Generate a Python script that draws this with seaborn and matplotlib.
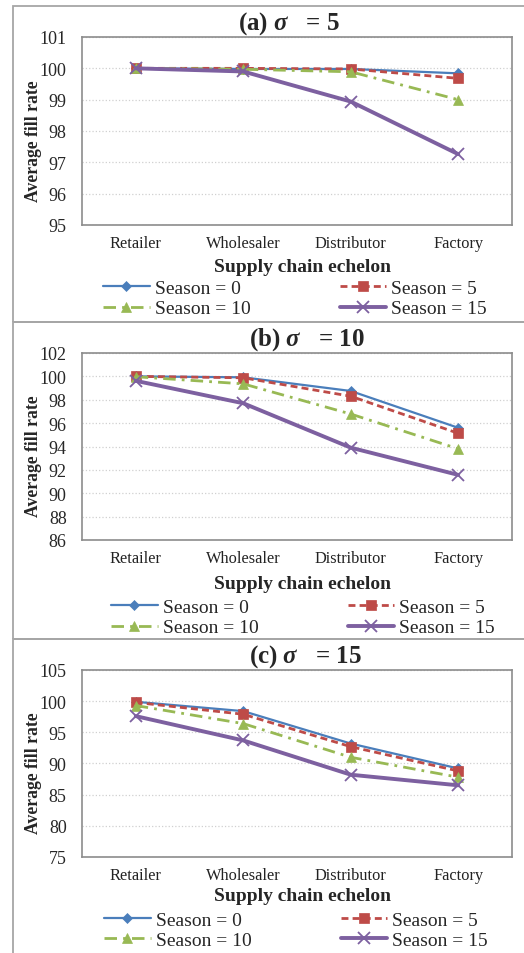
import numpy as np
import pandas as pd
import matplotlib
matplotlib.use("Agg")
import matplotlib.pyplot as plt
import seaborn as sns
from matplotlib.patches import Rectangle

# ---------------- data ----------------
echelons = ["Retailer", "Wholesaler", "Distributor", "Factory"]
seasons = ["Season = 0", "Season = 5", "Season = 10", "Season = 15"]

# (a) sigma = 5
a_s0 = [100.0, 99.98, 99.98, 99.84]
a_s5 = [100.0, 100.0, 99.98, 99.68]
a_s10 = [100.0, 99.97, 99.89, 99.0]
a_s15 = [100.0, 99.90, 98.94, 97.26]

# (b) sigma = 10
b_s0 = [100.0, 99.92, 98.75, 95.6]
b_s5 = [100.0, 99.88, 98.3, 95.13]
b_s10 = [99.97, 99.36, 96.78, 93.8]
b_s15 = [99.62, 97.7, 93.9, 91.57]

# (c) sigma = 15
c_s0 = [99.9, 98.4, 93.2, 89.2]
c_s5 = [99.8, 97.9, 92.7, 88.8]
c_s10 = [99.3, 96.4, 91.0, 87.8]
c_s15 = [97.6, 93.7, 88.2, 86.5]

titles = [r"(a) $\sigma$   = 5", r"(b) $\sigma$   = 10", r"(c) $\sigma$   = 15"]
yticks_a = [95, 96, 97, 98, 99, 100, 101]
yticks_b = [86, 88, 90, 92, 94, 96, 98, 100, 102]
yticks_c = [75, 80, 85, 90, 95, 100, 105]

# ---------------- style ----------------
sns.set_style("white")
plt.rcParams["font.family"] = ["Liberation Serif", "DejaVu Serif"]
plt.rcParams["mathtext.fontset"] = "custom"
plt.rcParams["mathtext.it"] = "Liberation Serif:italic:bold"
plt.rcParams["mathtext.rm"] = "Liberation Serif:bold"
plt.rcParams["mathtext.bf"] = "Liberation Serif:bold"

colors = ["#4A7EBB", "#BE4B48", "#98B954", "#7D60A0"]
markers = ["D", "s", "^", "x"]
msizes = [5, 6.5, 7, 8.5]
lstyles = ["-", (0, (2.5, 1.5)), (0, (4.5, 2.2, 1, 2.2)), "-"]
lwidths = [1.6, 2.0, 2.0, 2.8]

W, H = 524, 954
fig = plt.figure(figsize=(W / 100, H / 100), dpi=100)

# layout per panel (pixel values)
panels = [
    dict(series=[a_s0, a_s5, a_s10, a_s15], yt=yticks_a, top=38, bot=226,
         tx=289, xl=267, leg=(295, 299.5), box=(7, 323)),
    dict(series=[b_s0, b_s5, b_s10, b_s15], yt=yticks_b, top=354, bot=541,
         tx=307, xl=585, leg=(303, 618.5), box=(323, 640)),
    dict(series=[c_s0, c_s5, c_s10, c_s15], yt=yticks_c, top=671, bot=858,
         tx=305, xl=897, leg=(296, 931), box=(640, 970)),
]

for i, p in enumerate(panels):
    # panel frame
    y0, y1 = p["box"]
    fig.add_artist(Rectangle((13 / W, 1 - y1 / H), 515 / W, (y1 - y0) / H,
                             transform=fig.transFigure, fill=False,
                             ec="#a6a6a6", lw=1.3, zorder=0))
    ax = fig.add_axes([82 / W, 1 - p["bot"] / H, 430 / W, (p["bot"] - p["top"]) / H])
    rows = []
    for s, vals in zip(seasons, p["series"]):
        for e, v in zip(echelons, vals):
            rows.append((e, s, v))
    df = pd.DataFrame(rows, columns=["echelon", "season", "value"])
    for k, s in enumerate(seasons):
        sub = df[df["season"] == s]
        sns.lineplot(data=sub, x="echelon", y="value", ax=ax, sort=False,
                     color=colors[k], marker=markers[k], markersize=msizes[k],
                     markeredgecolor=colors[k], markerfacecolor=colors[k],
                     markeredgewidth=1.3 if markers[k] == "x" else 0.5,
                     linestyle=lstyles[k], linewidth=lwidths[k],
                     label=s, legend=False, zorder=3 + k)
    if ax.get_legend() is not None:
        ax.get_legend().remove()
    yt = p["yt"]
    ax.set_ylim(yt[0], yt[-1])
    ax.set_yticks(yt)
    ax.set_xlim(-0.5, 3.5)
    ax.set_xlabel("")
    ax.set_ylabel("")
    ax.tick_params(axis="y", labelsize=13, pad=11, length=0)
    ax.tick_params(axis="x", labelsize=11.8, pad=7, length=0)
    for lab in ax.get_xticklabels():
        lab.set_color("#222222")
    ax.grid(axis="y", color="#d0d0d0", linestyle=":", linewidth=0.9)
    ax.grid(axis="x", visible=False)
    for sp in ax.spines.values():
        sp.set_color("#8c8c8c")
        sp.set_linewidth(1.2)
    # title
    fig.text(p["tx"] / W, 1 - (p["top"] - 1) / H, titles[i], ha="center",
             va="bottom", fontsize=18, fontweight="bold")
    # axis labels
    fig.text(302 / W, 1 - p["xl"] / H, "Supply chain echelon", ha="center",
             va="center", fontsize=14, fontweight="bold")
    fig.text(33 / W, 1 - ((p["top"] + p["bot"]) / 2 + 9) / H, "Average fill rate",
             ha="center", va="center", rotation=90, fontsize=12.7,
             fontweight="bold")
    # legend (row-wise order)
    handles, labels = ax.get_legend_handles_labels()
    order = [0, 2, 1, 3]
    fig.legend([handles[j] for j in order], [labels[j] for j in order],
               ncol=2, loc="center",
               bbox_to_anchor=(p["leg"][0] / W, 1 - p["leg"][1] / H),
               frameon=False, fontsize=14, handlelength=2.4,
               handletextpad=0.25, columnspacing=4.6, labelspacing=0.13,
               borderpad=0, numpoints=1)

fig.savefig("out.png", dpi=100)
